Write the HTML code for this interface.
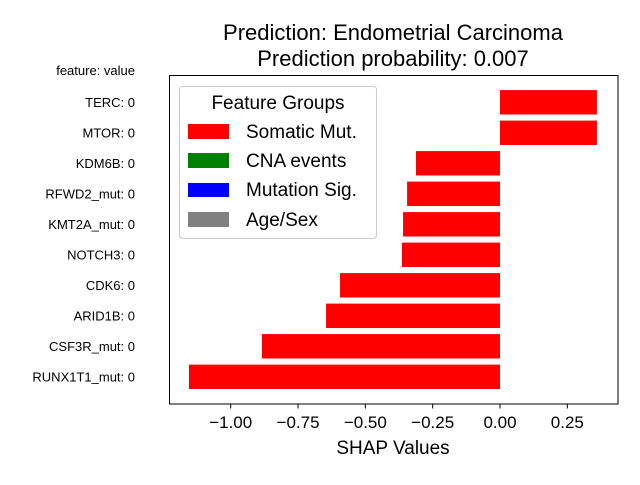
<!DOCTYPE html>
<html><head><meta charset="utf-8"><style>
body{margin:0;background:#fff;}
svg text{font-family:"Liberation Sans",Arial,sans-serif;}
</style></head><body>
<svg id="chart" width="640" height="480" xmlns="http://www.w3.org/2000/svg">
<text x="393" y="40" font-size="22" text-anchor="middle">Prediction: Endometrial Carcinoma</text>
<text x="393" y="66" font-size="22" text-anchor="middle">Prediction probability: 0.007</text>
<text x="135" y="75" font-size="13" text-anchor="end">feature: value</text>
<g id="bars"></g>
<g id="ticks"></g>
<rect x="169.5" y="75.5" width="448.5" height="328.5" fill="none" stroke="#000" stroke-width="1"/>
<g>
<rect x="179.5" y="86.5" width="197" height="152" rx="3" fill="#fff" fill-opacity="0.8" stroke="#ccc"/>
<text x="278" y="109" font-size="19" text-anchor="middle">Feature Groups</text>
<rect x="188" y="124" width="41" height="15" fill="#ff0000"/>
<text x="246" y="138" font-size="19">Somatic Mut.</text>
<rect x="188" y="153" width="41" height="15" fill="#008000"/>
<text x="246" y="167" font-size="19">CNA events</text>
<rect x="188" y="183" width="41" height="14" fill="#0000ff"/>
<text x="246" y="196" font-size="19">Mutation Sig.</text>
<rect x="188" y="212" width="41" height="15" fill="#808080"/>
<text x="246" y="226" font-size="19">Age/Sex</text>
</g>
<text x="393" y="454" font-size="19" text-anchor="middle">SHAP Values</text>
</svg>
<script>
const features = ["TERC: 0","MTOR: 0","KDM6B: 0","RFWD2_mut: 0","KMT2A_mut: 0","NOTCH3: 0","CDK6: 0","ARID1B: 0","CSF3R_mut: 0","RUNX1T1_mut: 0"];
const shapValues = [0.360,0.360,-0.312,-0.345,-0.360,-0.364,-0.594,-0.646,-0.884,-1.155];
const tickValues = [-1.0,-0.75,-0.5,-0.25,0,0.25];
const tickLabels = ["\u22121.00","\u22120.75","\u22120.50","\u22120.25","0.00","0.25"];
const NS="http://www.w3.org/2000/svg";
function xs(v){return 500+v*269.3;}
function ys(i){return 102.3+i*30.5;}
const bh=24.4;
const bars=document.getElementById('bars');
features.forEach((f,i)=>{
  const v=shapValues[i];
  const r=document.createElementNS(NS,'rect');
  r.setAttribute('x',Math.min(xs(0),xs(v)));
  r.setAttribute('width',Math.abs(xs(v)-xs(0)));
  r.setAttribute('y',ys(i)-bh/2);
  r.setAttribute('height',bh);
  r.setAttribute('fill','#ff0000');
  
  
  bars.appendChild(r);
  const t=document.createElementNS(NS,'text');
  t.setAttribute('x',135);t.setAttribute('y',ys(i)+4.5);
  t.setAttribute('font-size','13');t.setAttribute('text-anchor','end');
  t.textContent=f;
  
  
  bars.appendChild(t);
});
const ticks=document.getElementById('ticks');
tickValues.forEach((v,i)=>{
  const l=document.createElementNS(NS,'line');
  l.setAttribute('x1',xs(v));l.setAttribute('x2',xs(v));
  l.setAttribute('y1',404);l.setAttribute('y2',408.5);
  l.setAttribute('stroke','#000');
  
  
  ticks.appendChild(l);
  const t=document.createElementNS(NS,'text');
  t.setAttribute('x',xs(v));t.setAttribute('y',428);
  t.setAttribute('font-size','17');t.setAttribute('text-anchor','middle');
  t.textContent=tickLabels[i];
  
  
  ticks.appendChild(t);
});
</script>
</body></html>
